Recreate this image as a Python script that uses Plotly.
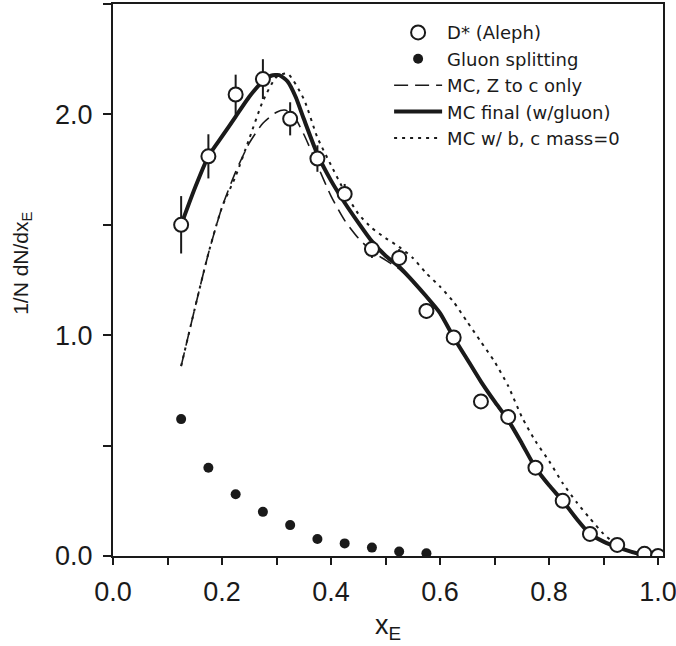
import plotly.graph_objects as go

# Data: D* (Aleph) open circles with errors
dstar_x = [0.125, 0.175, 0.225, 0.275, 0.325, 0.375, 0.425, 0.475, 0.525, 0.575,
           0.625, 0.675, 0.725, 0.775, 0.825, 0.875, 0.925, 0.975, 1.0]
dstar_y = [1.50, 1.81, 2.09, 2.16, 1.98, 1.80, 1.64, 1.39, 1.35, 1.11,
           0.99, 0.70, 0.63, 0.40, 0.25, 0.10, 0.05, 0.01, 0.0]
dstar_err = [0.13, 0.10, 0.09, 0.09, 0.075, 0.06, 0.045, 0.04, 0.04, 0.035,
             0.03, 0.03, 0.02, 0.02, 0.02, 0.02, 0.02, 0.01, 0.01]

# Gluon splitting filled circles
gluon_x = [0.125, 0.175, 0.225, 0.275, 0.325, 0.375, 0.425, 0.475, 0.525, 0.575]
gluon_y = [0.62, 0.40, 0.28, 0.20, 0.14, 0.077, 0.057, 0.038, 0.02, 0.012]

# MC final (w/gluon) - solid
final_x = [0.125, 0.15, 0.175, 0.2, 0.225, 0.25, 0.275, 0.29, 0.305, 0.32, 0.335, 0.35,
           0.375, 0.4, 0.425, 0.45, 0.475, 0.5, 0.525, 0.55, 0.575, 0.6, 0.625, 0.65,
           0.675, 0.7, 0.725, 0.75, 0.775, 0.8, 0.825, 0.85, 0.875, 0.9, 0.925, 0.95, 0.975]
final_y = [1.50, 1.665, 1.81, 1.90, 1.99, 2.08, 2.15, 2.175, 2.178, 2.15, 2.08, 1.98,
           1.82, 1.70, 1.60, 1.51, 1.425, 1.36, 1.31, 1.245, 1.175, 1.10, 0.99, 0.89,
           0.79, 0.70, 0.615, 0.51, 0.40, 0.32, 0.25, 0.17, 0.10, 0.065, 0.04, 0.02, 0.004]

# MC, Z to c only - dashed
zc_x = [0.125, 0.15, 0.175, 0.2, 0.225, 0.25, 0.275, 0.3, 0.315, 0.33, 0.35, 0.375,
        0.4, 0.425, 0.45, 0.475, 0.5, 0.525, 0.55, 0.575, 0.6, 0.625, 0.65, 0.675,
        0.7, 0.725, 0.75, 0.775, 0.8, 0.825, 0.85, 0.875, 0.9, 0.925, 0.95, 0.975]
zc_y = [0.86, 1.12, 1.37, 1.58, 1.74, 1.87, 1.96, 2.01, 2.02, 2.00, 1.91, 1.77,
        1.63, 1.52, 1.44, 1.38, 1.34, 1.30, 1.24, 1.17, 1.095, 0.985, 0.885, 0.785,
        0.695, 0.61, 0.505, 0.395, 0.315, 0.245, 0.165, 0.098, 0.062, 0.038, 0.018, 0.003]

# MC w/ b, c mass=0 - dotted
m0_x = [0.125, 0.15, 0.175, 0.2, 0.225, 0.25, 0.275, 0.3, 0.32, 0.35, 0.375, 0.4,
        0.425, 0.45, 0.475, 0.5, 0.525, 0.55, 0.575, 0.6, 0.625, 0.65, 0.675, 0.7,
        0.725, 0.75, 0.775, 0.8, 0.825, 0.85, 0.875, 0.9, 0.925, 0.95, 0.975]
m0_y = [0.86, 1.12, 1.37, 1.58, 1.72, 1.89, 2.06, 2.17, 2.185, 2.07, 1.895, 1.77,
        1.65, 1.55, 1.485, 1.44, 1.40, 1.35, 1.28, 1.22, 1.15, 1.06, 0.97, 0.88,
        0.77, 0.63, 0.52, 0.43, 0.33, 0.245, 0.17, 0.10, 0.05, 0.02, 0.0]

Y_TITLE = "1/N dN/dx<sub>E</sub>"
X_TITLE = "x<sub>E</sub>"

TEXT_FONT = "Liberation Sans, Arial, sans-serif"
LEG_FONT = "DejaVu Sans, Verdana, sans-serif"
INK = "#1a1a1a"

fig = go.Figure()

fig.add_trace(go.Scatter(x=zc_x, y=zc_y, mode="lines", name="MC, Z to c only",
                         line=dict(color=INK, width=1.6, dash="14px,7px", shape="spline", smoothing=0.6),
                         legendrank=3))
fig.add_trace(go.Scatter(x=m0_x, y=m0_y, mode="lines", name="MC w/ b, c mass=0",
                         line=dict(color=INK, width=2, dash="3px,5px", shape="spline", smoothing=0.6),
                         legendrank=5))
fig.add_trace(go.Scatter(x=final_x, y=final_y, mode="lines", name="MC final (w/gluon)",
                         line=dict(color=INK, width=4, shape="spline", smoothing=0.6),
                         legendrank=4))
fig.add_trace(go.Scatter(x=gluon_x, y=gluon_y, mode="markers", name="Gluon splitting",
                         marker=dict(symbol="circle", size=10, color=INK),
                         legendrank=2))
fig.add_trace(go.Scatter(x=dstar_x, y=dstar_y, mode="markers", name="D* (Aleph)",
                         marker=dict(symbol="circle", size=14, color="white",
                                     line=dict(color=INK, width=2)),
                         error_y=dict(type="data", array=dstar_err, color=INK,
                                      thickness=2, width=0),
                         legendrank=1))

fig.add_annotation(text=Y_TITLE, xref="paper", yref="paper", x=-0.1655, y=0.531,
                   xanchor="center", yanchor="middle", textangle=-90, showarrow=False,
                   font=dict(family=TEXT_FONT, size=21, color=INK))

fig.update_layout(
    template="none",
    width=676, height=646,
    margin=dict(l=113, r=13, t=4, b=90, autoexpand=False),
    paper_bgcolor="white", plot_bgcolor="white",
    font=dict(family=TEXT_FONT, size=18, color=INK),
    showlegend=True,
    legend=dict(x=0.502, y=0.9815, xanchor="left", yanchor="top",
                bgcolor="rgba(0,0,0,0)", borderwidth=0,
                font=dict(family=LEG_FONT, size=18, color=INK),
                itemwidth=48, tracegroupgap=0),
    xaxis=dict(range=[0, 1.009], tickmode="linear", tick0=0, dtick=0.2,
               tickformat=".1f", ticks="outside", ticklen=7, tickwidth=2,
               tickcolor=INK, showline=True, linewidth=2, linecolor=INK,
               mirror=True, showgrid=False, zeroline=False, automargin=False,
               tickfont=dict(family=TEXT_FONT, size=27, color=INK),
               ticklabelstandoff=4, ticklabeloverflow="allow",
               minor=dict(dtick=0.1, ticks="outside", ticklen=7, tickwidth=2,
                          tickcolor=INK, showgrid=False),
               title=dict(text=X_TITLE, font=dict(family=TEXT_FONT, size=27, color=INK),
                          standoff=9)),
    yaxis=dict(range=[0, 2.5], tickmode="linear", tick0=0, dtick=1.0,
               tickformat=".1f", ticks="outside", ticklen=8, tickwidth=2,
               tickcolor=INK, showline=True, linewidth=2, linecolor=INK,
               mirror=True, showgrid=False, zeroline=False, automargin=False,
               tickfont=dict(family=TEXT_FONT, size=27, color=INK),
               ticklabelstandoff=5, ticklabeloverflow="allow",
               minor=dict(dtick=0.5, ticks="outside", ticklen=8, tickwidth=2,
                          tickcolor=INK, showgrid=False)),
)

fig.write_html("out.html",
               config={"displayModeBar": False, "staticPlot": True},
               post_script="document.body.style.margin='0';document.body.style.overflow='hidden';")
